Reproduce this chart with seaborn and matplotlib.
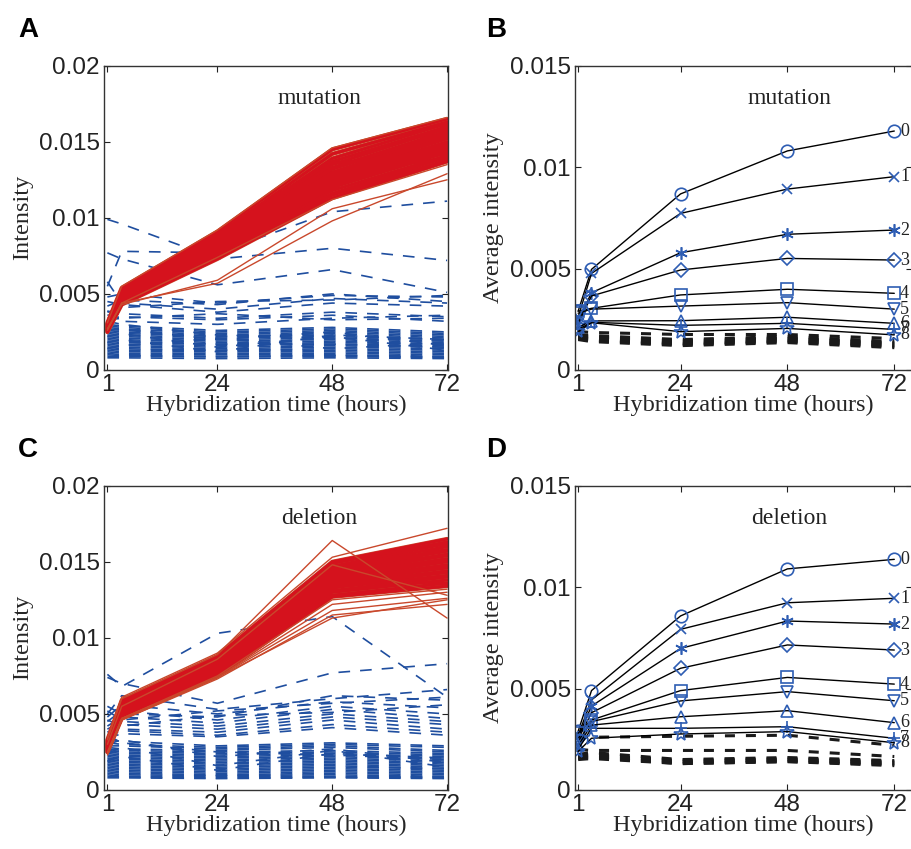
import matplotlib
matplotlib.use("Agg")
import numpy as np
import pandas as pd
import seaborn as sns
import matplotlib.pyplot as plt

# ---------------- data (intensity values in units of 0.001) ----------------
TIMES = [1, 4, 24, 48, 72]
SCALE = 1e-3

mut_red = [
    [3.1, 5.4, 9.1, 14.5, 16.5], [3.0, 5.3, 8.9, 14.2, 16.3], [3.0, 5.2, 8.8, 13.9, 16.2],
    [2.9, 5.1, 8.7, 13.7, 16.0], [2.9, 5.1, 8.6, 13.5, 15.9], [2.9, 5.0, 8.5, 13.3, 15.7],
    [2.8, 5.0, 8.4, 13.2, 15.6], [2.8, 4.9, 8.4, 13.0, 15.5], [2.8, 4.9, 8.3, 12.9, 15.3],
    [2.8, 4.8, 8.2, 12.8, 15.2], [2.7, 4.8, 8.2, 12.7, 15.0], [2.7, 4.8, 8.1, 12.6, 14.9],
    [2.7, 4.7, 8.0, 12.5, 14.8], [2.7, 4.7, 8.0, 12.4, 14.7], [2.7, 4.6, 7.9, 12.3, 14.6],
    [2.6, 4.6, 7.8, 12.2, 14.5], [2.6, 4.6, 7.8, 12.1, 14.4], [2.6, 4.5, 7.7, 12.0, 14.3],
    [2.6, 4.5, 7.6, 11.8, 14.1], [2.6, 4.4, 7.5, 11.6, 14.0], [2.5, 4.4, 7.4, 11.5, 13.8],
    [2.5, 4.3, 7.3, 11.3, 13.7], [2.9, 4.9, 8.6, 12.0, 15.8], [2.7, 5.0, 7.9, 13.6, 14.2],
    [2.8, 4.7, 8.5, 11.9, 16.1], [2.6, 4.8, 7.7, 13.0, 13.9], [3.0, 4.6, 8.2, 12.6, 15.4],
    [2.7, 4.5, 8.8, 12.2, 14.9],
]
mut_red_outliers = [
    [3.1, 5.5, 9.2, 14.6, 16.6], [2.7, 4.4, 5.7, 9.8, 12.9], [2.7, 4.3, 5.9, 10.6, 12.5],
    [2.6, 4.4, 7.4, 11.2, 13.5],
]
del_red = [
    [3.3, 5.9, 8.8, 15.0, 16.5],
    [3.2, 5.8, 8.7, 14.9, 16.3], [3.2, 5.7, 8.6, 14.7, 16.2], [3.1, 5.6, 8.5, 14.6, 16.0],
    [3.1, 5.6, 8.5, 14.5, 15.8], [3.0, 5.5, 8.4, 14.4, 15.7], [3.0, 5.4, 8.3, 14.3, 15.5],
    [3.0, 5.4, 8.3, 14.2, 15.4], [2.9, 5.3, 8.2, 14.1, 15.2], [2.9, 5.3, 8.1, 14.0, 15.1],
    [2.9, 5.2, 8.1, 13.9, 15.0], [2.8, 5.2, 8.0, 13.8, 14.8], [2.8, 5.1, 7.9, 13.7, 14.7],
    [2.8, 5.1, 7.9, 13.6, 14.6], [2.7, 5.0, 7.8, 13.5, 14.4], [2.7, 5.0, 7.8, 13.4, 14.3],
    [2.7, 4.9, 7.7, 13.3, 14.1], [2.6, 4.9, 7.6, 13.1, 14.0], [2.6, 4.8, 7.6, 13.0, 13.8],
    [2.5, 4.8, 7.5, 12.8, 13.6], [2.5, 4.7, 7.5, 12.7, 13.4], [2.8, 5.3, 8.2, 13.2, 16.1],
    [2.9, 5.0, 8.0, 14.4, 13.5],
]
del_red_outliers = [
    [3.4, 6.1, 9.0, 15.3, 17.2], [3.3, 6.0, 8.9, 16.4, 11.3], [2.4, 4.7, 7.4, 12.2, 13.0],
    [2.4, 4.6, 7.4, 11.8, 12.6], [2.3, 4.6, 7.3, 11.5, 12.2], [2.4, 4.7, 7.4, 11.3, 12.5],
    [3.0, 5.5, 8.6, 14.8, 12.8], [2.5, 4.7, 7.5, 12.5, 13.2],
]

mut_blue = [
    # sparse upper probes
    [9.9, 9.6, 7.3, 8.0, 7.2], [7.7, 7.3, 5.6, 6.6, 5.1], [5.5, 7.8, 7.7, 10.4, 11.1],
    [4.8, 5.0, 4.4, 4.9, 4.8], [4.2, 4.6, 4.3, 5.0, 4.5], [3.8, 4.1, 4.5, 4.6, 4.9],
    [4.5, 4.3, 3.8, 4.4, 4.2], [3.6, 3.7, 3.4, 3.8, 3.5], [3.4, 3.5, 3.3, 3.6, 3.2],
    [3.9, 3.2, 3.0, 3.4, 3.6], [5.8, 4.4, 4.0, 4.7, 4.4], [3.3, 3.4, 3.7, 3.3, 3.4],
    # dense lower band
    [3.0, 2.9, 2.6, 2.8, 2.5], [2.9, 2.8, 2.5, 2.7, 2.4], [2.8, 2.7, 2.4, 2.6, 2.3],
    [2.7, 2.6, 2.3, 2.5, 2.2], [2.6, 2.5, 2.2, 2.4, 2.1], [2.5, 2.4, 2.2, 2.3, 2.0],
    [2.4, 2.3, 2.1, 2.2, 2.0], [2.3, 2.2, 2.0, 2.1, 1.9], [2.2, 2.1, 1.9, 2.0, 1.8],
    [2.1, 2.0, 1.8, 1.9, 1.7], [2.0, 1.9, 1.7, 1.8, 1.7], [1.9, 1.8, 1.7, 1.7, 1.6],
    [1.8, 1.7, 1.6, 1.7, 1.5], [1.7, 1.6, 1.5, 1.6, 1.5], [1.6, 1.5, 1.4, 1.5, 1.4],
    [1.5, 1.4, 1.3, 1.4, 1.3], [1.4, 1.3, 1.3, 1.3, 1.2], [1.3, 1.2, 1.2, 1.2, 1.1],
    [1.2, 1.1, 1.1, 1.1, 1.0], [1.1, 1.0, 1.0, 1.0, 0.9], [1.0, 0.95, 0.9, 0.95, 0.85],
    [0.9, 0.9, 0.85, 0.9, 0.8], [0.8, 0.8, 0.75, 0.8, 0.75], [2.6, 2.7, 2.0, 2.5, 1.6],
    [2.2, 2.4, 1.5, 2.2, 1.3], [1.8, 2.0, 1.2, 2.3, 2.0], [3.2, 3.0, 2.3, 2.1, 1.9],
    [1.4, 1.6, 2.1, 1.4, 1.8],
]
del_blue = [
    # sparse upper probes
    [7.6, 6.8, 10.3, 11.4, 6.1], [7.4, 7.0, 5.7, 7.7, 8.3], [5.0, 6.2, 5.3, 6.0, 6.6],
    [4.8, 5.6, 5.0, 5.8, 5.4], [5.5, 5.0, 4.8, 6.2, 5.9], [4.5, 5.2, 4.6, 5.5, 5.0],
    [4.2, 4.8, 4.4, 5.3, 4.7], [4.0, 4.5, 4.2, 5.0, 4.5], [3.8, 4.3, 4.0, 4.8, 4.3],
    [3.6, 4.0, 3.8, 4.6, 4.0], [3.5, 3.9, 3.6, 4.3, 3.8], [3.4, 3.7, 3.5, 4.1, 3.6],
    [5.2, 4.6, 5.2, 5.7, 6.1], [4.6, 4.2, 4.9, 5.1, 5.6],
    # dense lower band
    [3.3, 3.2, 2.9, 3.1, 2.9], [3.1, 3.0, 2.8, 3.0, 2.8], [2.9, 2.9, 2.7, 2.9, 2.6],
    [2.8, 2.7, 2.6, 2.8, 2.5], [2.7, 2.6, 2.5, 2.6, 2.4], [2.6, 2.5, 2.4, 2.5, 2.3],
    [2.5, 2.4, 2.3, 2.4, 2.2], [2.4, 2.3, 2.2, 2.3, 2.1], [2.3, 2.2, 2.1, 2.2, 2.0],
    [2.2, 2.1, 2.0, 2.1, 1.9], [2.1, 2.0, 1.9, 2.0, 1.8], [2.0, 1.9, 1.8, 1.9, 1.7],
    [1.9, 1.8, 1.7, 1.8, 1.6], [1.8, 1.7, 1.6, 1.7, 1.5], [1.7, 1.6, 1.5, 1.6, 1.4],
    [1.6, 1.5, 1.4, 1.5, 1.4], [1.5, 1.4, 1.3, 1.4, 1.3], [1.4, 1.3, 1.2, 1.3, 1.2],
    [1.3, 1.2, 1.1, 1.2, 1.1], [1.2, 1.1, 1.0, 1.1, 1.0], [1.1, 1.0, 0.95, 1.0, 0.9],
    [1.0, 0.9, 0.9, 0.9, 0.85], [0.9, 0.85, 0.8, 0.85, 0.8], [0.8, 0.8, 0.75, 0.8, 0.75],
    [3.0, 3.3, 2.2, 2.7, 1.8], [2.4, 2.8, 1.6, 2.6, 1.5], [1.9, 2.2, 1.3, 2.4, 2.1],
    [3.6, 3.1, 2.5, 2.3, 2.0],
]

CLASS_LABELS = ["0", "1", "2", "3", "4", "5", "6", "7", "8"]
mut_class = [
    [2.9, 4.96, 8.68, 10.8, 11.78], [2.6, 4.76, 7.72, 8.92, 9.53], [2.4, 3.81, 5.78, 6.69, 6.90],
    [2.3, 3.65, 4.93, 5.50, 5.42], [2.9, 3.04, 3.70, 3.98, 3.78], [2.8, 3.00, 3.15, 3.32, 3.00],
    [2.1, 2.42, 2.43, 2.60, 2.30], [2.0, 2.35, 2.20, 2.30, 2.00], [1.9, 2.33, 1.89, 2.05, 1.73],
]
del_class = [
    [2.9, 4.90, 8.58, 10.90, 11.37], [2.7, 4.44, 7.92, 9.23, 9.45], [2.6, 4.14, 6.98, 8.33, 8.18],
    [2.5, 3.81, 6.00, 7.15, 6.90], [2.8, 3.45, 4.90, 5.55, 5.22], [2.4, 3.37, 4.39, 4.85, 4.40],
    [2.2, 3.20, 3.61, 3.91, 3.32], [2.0, 3.04, 3.04, 3.12, 2.55], [1.9, 2.55, 2.76, 2.88, 2.33],
]
mut_ctrl = [
    [1.9, 1.85, 1.75, 1.75, 1.55], [1.75, 1.7, 1.5, 1.65, 1.4], [1.7, 1.65, 1.45, 1.6, 1.35],
    [1.65, 1.6, 1.4, 1.55, 1.3], [1.6, 1.55, 1.35, 1.5, 1.25], [1.6, 1.5, 1.3, 1.45, 1.2],
    [1.55, 1.45, 1.25, 1.4, 1.15], [1.5, 1.4, 1.2, 1.35, 1.1],
]
del_ctrl = [
    [2.6, 2.6, 2.65, 2.7, 2.2], [2.0, 1.95, 1.95, 1.95, 1.65], [1.75, 1.85, 1.5, 1.6, 1.45],
    [1.7, 1.75, 1.45, 1.55, 1.4], [1.65, 1.7, 1.4, 1.5, 1.35], [1.6, 1.65, 1.35, 1.45, 1.3],
    [1.55, 1.6, 1.3, 1.4, 1.25], [1.5, 1.55, 1.3, 1.4, 1.2],
]

# ---------------- styling ----------------
sns.set_style("ticks")
plt.rcParams["font.family"] = ["Liberation Sans", "DejaVu Sans"]
plt.rcParams["lines.scale_dashes"] = False
SERIF = ["Liberation Serif", "DejaVu Serif"]
RED = "#d5121d"
RED_EDGE = "#c9482c"
BLUE = "#1f4e9f"
MBLUE = "#2e5db3"
MARKERS = ["o", "x", (6, 2, 0), "D", "s", "v", "^", "+", "*"]
MSIZES = [9, 7, 9, 7, 8, 8, 8, 9, 10]


def long_df(lines):
    rows = [(i, t, v * SCALE) for i, line in enumerate(lines) for t, v in zip(TIMES, line)]
    return pd.DataFrame(rows, columns=["probe", "time", "intensity"])


def style_axes(ax, ymax, yticks, yticklabels, xmax, ylabel):
    ax.set_xlim(0.3, xmax)
    ax.set_ylim(0, ymax)
    ax.set_xticks([1, 24, 48, 72])
    ax.set_xticklabels(["1", "24", "48", "72"])
    ax.set_yticks(yticks)
    ax.set_yticklabels(yticklabels)
    ax.tick_params(direction="in", top=True, right=True, length=4, width=0.8,
                   labelsize=17.5, pad=3, colors="#222222")
    for s in ax.spines.values():
        s.set_visible(True)
        s.set_linewidth(1.0)
        s.set_color("#333333")
    ax.set_xlabel("Hybridization time (hours)", family=SERIF, fontsize=17.5, labelpad=-1)
    ax.set_ylabel(ylabel, family=SERIF, fontsize=17.5, labelpad=4)


fig = plt.figure(figsize=(9.11, 8.49), dpi=100)
axA = fig.add_axes([0.1142, 0.5642, 0.3776, 0.3584])
axB = fig.add_axes([0.6312, 0.5642, 0.3700, 0.3584])
axC = fig.add_axes([0.1142, 0.0695, 0.3776, 0.3584])
axD = fig.add_axes([0.6312, 0.0695, 0.3700, 0.3584])

# ---- panels A and C: individual probes ----
for ax, blue, red, red_out, label in [(axA, mut_blue, mut_red, mut_red_outliers, "mutation"),
                                      (axC, del_blue, del_red, del_red_outliers, "deletion")]:
    sns.lineplot(data=long_df(blue), x="time", y="intensity", units="probe", estimator=None,
                 color=BLUE, lw=1.2, linestyle=(0, (8.4, 7.2)), ax=ax, legend=False)
    sns.lineplot(data=long_df(red), x="time", y="intensity", units="probe", estimator=None,
                 color=RED_EDGE, lw=3.0, ax=ax, legend=False)
    sns.lineplot(data=long_df(red), x="time", y="intensity", units="probe", estimator=None,
                 color=RED, lw=2.2, ax=ax, legend=False)
    sns.lineplot(data=long_df(red_out), x="time", y="intensity", units="probe", estimator=None,
                 color=RED_EDGE, lw=1.0, ax=ax, legend=False)
    style_axes(ax, 0.02, [0, 0.005, 0.01, 0.015, 0.02], ["0", "0.005", "0.01", "0.015", "0.02"],
               72.2, "Intensity")
    ax.text(45.3, 0.01784, label, family=SERIF, fontsize=17, ha="center", va="center", color="#222222")

# ---- panels B and D: class averages ----
for ax, cls, ctrl, label in [(axB, mut_class, mut_ctrl, "mutation"), (axD, del_class, del_ctrl, "deletion")]:
    sns.lineplot(data=long_df(ctrl), x="time", y="intensity", units="probe", estimator=None,
                 color="#1a1a1a", lw=2.2, linestyle=(0, (7.2, 7.9)), ax=ax, legend=False)
    for k, vals in enumerate(cls):
        sns.lineplot(x=TIMES, y=[v * SCALE for v in vals], color="black", lw=1.0,
                     marker=MARKERS[k], markersize=MSIZES[k], markerfacecolor="none",
                     markeredgecolor=MBLUE, markeredgewidth=1.2, ax=ax, legend=False)
        ax.text(73.3, vals[-1] * SCALE, CLASS_LABELS[k], family=SERIF, fontsize=13,
                ha="left", va="center", color="#222222")
    style_axes(ax, 0.015, [0, 0.005, 0.01, 0.015], ["0", "0.005", "0.01", "0.015"],
               76.0, "Average intensity")
    ax.text(48.5, 0.0134, label, family=SERIF, fontsize=17, ha="center", va="center", color="#222222")

# ---- panel letters ----
for letter, x, y in [("A", 18, 37), ("B", 486, 37), ("C", 18, 457), ("D", 486, 457)]:
    fig.text(x / 911, 1 - y / 849, letter, fontsize=20, fontweight="bold", ha="left",
             va="baseline", color="black")

fig.savefig("out.png", dpi=100)
